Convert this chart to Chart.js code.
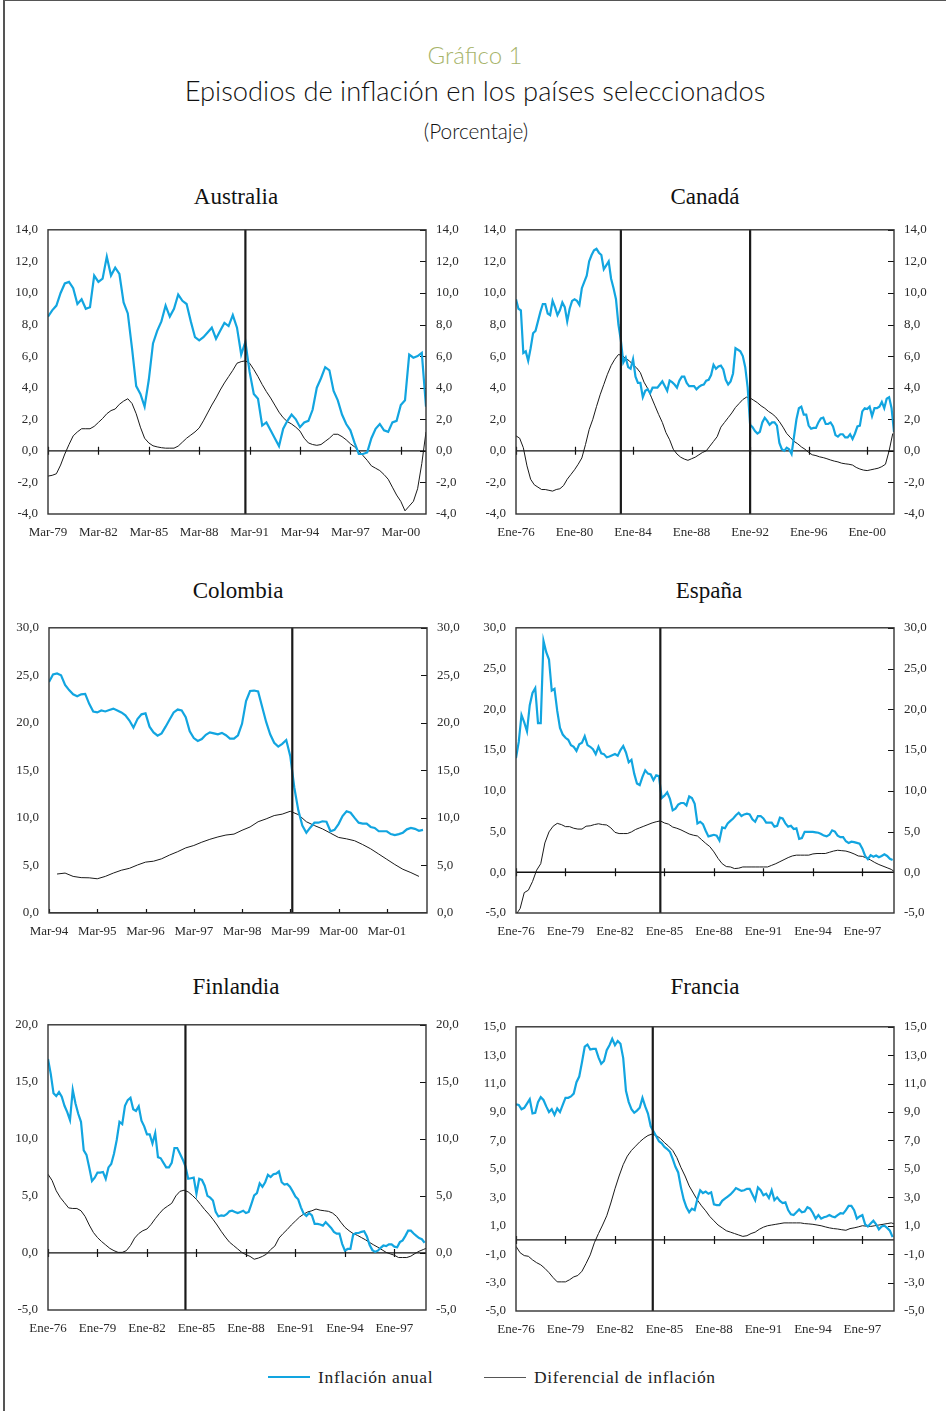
<!DOCTYPE html>
<html lang="es">
<head>
<meta charset="utf-8">
<title>Episodios de inflación en los países seleccionados</title>
<script src="https://cdn.jsdelivr.net/npm/chart.js@4.4.0/dist/chart.umd.min.js"></script>
<style>
  html, body { margin: 0; padding: 0; background: #fff; }
  #page { position: relative; width: 946px; height: 1411px; overflow: hidden; background: #fff; }
  .rule-left { position: absolute; left: 3px; top: 0; width: 1.5px; height: 1411px; background: #555; }
  .rule-top { position: absolute; left: 3px; top: 0; width: 943px; height: 1px; background: #555; }
  .c { position: absolute; white-space: nowrap; transform: translate(-50%, -50%); }
  .sans { font-family: Lato, "Open Sans", sans-serif; font-weight: 300; color: #111; }
  .serif { font-family: "Liberation Serif", "Times New Roman", serif; color: #111; }
  .kicker { font-size: 24px; color: #a7b46b; }
  .headline { font-size: 27.3px; }
  .unit { font-size: 20.8px; }
  .ptitle { font-size: 23px; }
  canvas { position: absolute; }
  .lg-line { position: absolute; }
  .lg-text { position: absolute; white-space: nowrap; transform: translateY(-50%); font-size: 17.5px; letter-spacing: 0.65px; color: #222; }
</style>
</head>
<body>
<div id="page">
  <div class="rule-left"></div>
  <div class="rule-top"></div>

  <div class="c sans kicker" style="left:475px; top:54px;">Gráfico 1</div>
  <div class="c sans headline" style="left:475px; top:90px;">Episodios de inflación en los países seleccionados</div>
  <div class="c sans unit" style="left:476px; top:130px;">(Porcentaje)</div>

  <div class="c serif ptitle" style="left:236px; top:197px;">Australia</div>
  <div class="c serif ptitle" style="left:705px; top:197px;">Canadá</div>
  <div class="c serif ptitle" style="left:238px; top:591px;">Colombia</div>
  <div class="c serif ptitle" style="left:709px; top:591px;">España</div>
  <div class="c serif ptitle" style="left:236px; top:987px;">Finlandia</div>
  <div class="c serif ptitle" style="left:705px; top:987px;">Francia</div>

  <canvas id="australia" width="470" height="330" style="left:0px; top:220px;"></canvas>
  <canvas id="canada" width="470" height="330" style="left:468px; top:220px;"></canvas>
  <canvas id="colombia" width="470" height="331" style="left:1px; top:618px;"></canvas>
  <canvas id="espana" width="470" height="331" style="left:468px; top:618px;"></canvas>
  <canvas id="finlandia" width="470" height="331" style="left:0px; top:1015px;"></canvas>
  <canvas id="francia" width="470" height="330" style="left:468px; top:1017px;"></canvas>

  <div class="lg-line" style="left:268px; top:1376px; width:42px; height:2px; background:#12a5e0;"></div>
  <div class="lg-text serif" style="left:318px; top:1377px;">Inflación anual</div>
  <div class="lg-line" style="left:484px; top:1377px; width:42px; height:1px; background:#555;"></div>
  <div class="lg-text serif" style="left:534px; top:1377px;">Diferencial de inflación</div>
</div>

<script>
// ---- Australia: quarterly, from Mar-79 (x in months since the first observation) ----
const australiaTicks = ['Mar-79', 'Mar-82', 'Mar-85', 'Mar-88', 'Mar-91', 'Mar-94', 'Mar-97', 'Mar-00'];
const australiaBreaks = [141];
const australiaInflation = [
  8.5, 8.9, 9.2, 10.0, 10.6, 10.7, 10.3, 9.3, 9.6, 9.0,
  9.1, 11.1, 10.7, 10.9, 12.3, 11.1, 11.6, 11.2, 9.4, 8.7,
  6.5, 4.1, 3.6, 2.8, 4.5, 6.8, 7.6, 8.2, 9.2, 8.5,
  9.0, 9.9, 9.5, 9.3, 8.2, 7.2, 7.0, 7.2, 7.5, 7.8,
  7.1, 7.6, 8.1, 7.9, 8.6, 7.8, 6.1, 6.9, 5.0, 3.6,
  3.3, 1.6, 1.8, 1.3, 0.8, 0.3, 1.4, 1.9, 2.3, 2.0,
  1.5, 1.8, 1.9, 2.6, 4.0, 4.6, 5.3, 5.1, 3.8, 3.2,
  2.3, 1.7, 1.3, 0.5, -0.2, -0.2, -0.1, 0.8, 1.4, 1.7,
  1.3, 1.2, 1.8, 1.9, 2.9, 3.2, 6.1, 5.9, 6.0, 6.2, 2.8
];
const australiaDifferential = [
  -1.6, -1.55, -1.45, -0.9, -0.2, 0.4, 0.95, 1.2, 1.4, 1.4,
  1.4, 1.55, 1.8, 2.05, 2.35, 2.55, 2.65, 2.95, 3.15, 3.3,
  3.0, 2.35, 1.5, 0.8, 0.5, 0.32, 0.25, 0.2, 0.17, 0.17,
  0.17, 0.3, 0.55, 0.8, 1.0, 1.2, 1.45, 1.9, 2.4, 2.9,
  3.35, 3.85, 4.3, 4.7, 5.1, 5.55, 5.65, 5.7, 5.55, 5.15,
  4.7, 4.2, 3.75, 3.35, 2.9, 2.45, 2.1, 1.85, 1.7, 1.5,
  1.25, 0.8, 0.5, 0.4, 0.35, 0.4, 0.6, 0.8, 1.05, 1.05,
  0.9, 0.7, 0.45, 0.25, 0.0, -0.3, -0.6, -0.95, -1.1, -1.25,
  -1.5, -1.8, -2.3, -2.8, -3.2, -3.8, -3.5, -3.2, -2.4, -0.8, 1.2
];

// ---- Canadá: from Ene-76; inflation every 2 months, differential quarterly ----
const canadaTicks = ['Ene-76', 'Ene-80', 'Ene-84', 'Ene-88', 'Ene-92', 'Ene-96', 'Ene-00'];
const canadaBreaks = [86, 192];
const canadaInflation = [
  9.6, 9.0, 8.9, 6.2, 6.3, 5.7, 6.5, 7.45, 7.6, 8.2,
  8.8, 9.3, 9.3, 8.7, 8.6, 9.5, 9.1, 8.6, 8.9, 9.4,
  9.1, 8.2, 9.0, 9.5, 9.6, 9.5, 9.25, 10.3, 10.7, 11.1,
  12.0, 12.4, 12.7, 12.8, 12.55, 12.4, 11.5, 11.75, 12.0, 10.9,
  10.3, 9.6, 8.0, 7.0, 5.6, 5.9, 5.3, 5.2, 5.8, 4.7,
  4.3, 4.3, 3.4, 3.8, 3.9, 3.65, 4.0, 4.0, 4.0, 4.2,
  4.4, 4.1, 3.8, 4.45, 4.35, 4.2, 4.0, 4.45, 4.7, 4.7,
  4.3, 4.1, 4.1, 4.1, 3.9, 4.05, 4.15, 4.2, 4.45, 4.5,
  4.8, 5.45, 5.2, 5.35, 5.4, 5.15, 4.5, 4.2, 4.4, 4.9,
  6.5, 6.4, 6.3, 6.0, 5.3, 4.0, 1.65, 1.5, 1.25, 1.1,
  1.2, 1.8, 2.1, 1.9, 1.65, 1.8, 1.8, 1.6, 0.5, 0.1,
  0.0, 0.2, 0.1, -0.2, 0.9, 2.0, 2.7, 2.8, 2.3, 2.3,
  1.6, 1.4, 1.45, 1.45, 1.8, 2.05, 2.1, 1.7, 1.7, 1.8,
  1.55, 1.0, 0.9, 1.05, 1.05, 0.85, 0.85, 1.05, 0.75, 1.1,
  1.55, 1.6, 2.5, 2.7, 2.65, 2.8, 2.2, 2.7, 2.7, 2.8,
  3.1, 2.7, 3.3, 3.4, 2.7, 1.2
];
const canadaDifferential = [
  0.95, 0.8, 0.2, -0.95, -1.8, -2.15, -2.3, -2.45, -2.45, -2.5,
  -2.55, -2.45, -2.4, -2.2, -1.8, -1.5, -1.2, -0.85, -0.45, 0.4,
  1.35, 2.0, 2.8, 3.55, 4.2, 4.85, 5.4, 5.8, 6.1, 6.05,
  5.85, 5.7, 5.45, 5.25, 4.95, 4.35, 3.95, 3.4, 2.85, 2.3,
  1.8, 1.15, 0.7, 0.1, -0.2, -0.4, -0.52, -0.6, -0.5, -0.4,
  -0.25, -0.1, 0.0, 0.3, 0.6, 0.9, 1.5, 1.8, 2.1, 2.4,
  2.75, 3.0, 3.25, 3.4, 3.35, 3.2, 3.05, 2.85, 2.7, 2.5,
  2.35, 2.15, 1.85, 1.5, 1.1, 0.85, 0.6, 0.45, 0.25, 0.1,
  -0.1, -0.25, -0.3, -0.38, -0.43, -0.5, -0.58, -0.65, -0.7, -0.78,
  -0.82, -0.85, -0.9, -1.05, -1.15, -1.22, -1.25, -1.2, -1.15, -1.1,
  -1.0, -0.85, 0.0, 1.1
];

// ---- Colombia: monthly from Mar-94; differential every 2 months from May-94 ----
const colombiaTicks = ['Mar-94', 'Mar-95', 'Mar-96', 'Mar-97', 'Mar-98', 'Mar-99', 'Mar-00', 'Mar-01'];
const colombiaBreaks = [60.5];
const colombiaInflation = [
  24.3, 25.1, 25.2, 25.0, 24.0, 23.45, 23.0, 22.8, 23.0, 23.05,
  22.0, 21.2, 21.1, 21.3, 21.2, 21.35, 21.5, 21.3, 21.1, 20.8,
  20.25, 19.5, 20.4, 20.9, 21.0, 19.6, 19.0, 18.65, 18.9, 19.6,
  20.35, 21.1, 21.4, 21.3, 20.6, 19.1, 18.4, 18.1, 18.3, 18.75,
  19.0, 18.9, 18.8, 18.95, 18.7, 18.35, 18.35, 18.7, 19.9, 22.3,
  23.35, 23.4, 23.3, 21.7, 20.1, 18.8, 17.9, 17.5, 17.8, 18.2,
  16.5, 13.2, 10.8, 9.2, 8.45, 9.0, 9.5, 9.5, 9.65, 9.6,
  8.6, 8.75, 9.35, 10.2, 10.7, 10.55, 10.0, 9.5, 9.4, 9.4,
  9.05, 8.95, 8.6, 8.6, 8.6, 8.3, 8.2, 8.3, 8.45, 8.8,
  8.95, 8.85, 8.65, 8.75
];
const colombiaDifferential = [
  4.1, 4.2, 3.85, 3.72, 3.7, 3.6, 3.85, 4.2, 4.5, 4.7,
  5.05, 5.35, 5.45, 5.7, 6.1, 6.45, 6.85, 7.1, 7.45, 7.75,
  8.0, 8.2, 8.3, 8.7, 9.05, 9.6, 9.9, 10.25, 10.4, 10.7,
  10.35, 9.6, 9.2, 8.85, 8.4, 7.95, 7.8, 7.6, 7.2, 6.75,
  6.2, 5.65, 5.1, 4.6, 4.25, 3.85
];

// ---- España: from Ene-76; inflation every 2 months, differential quarterly ----
const espanaTicks = ['Ene-76', 'Ene-79', 'Ene-82', 'Ene-85', 'Ene-88', 'Ene-91', 'Ene-94', 'Ene-97'];
const espanaBreaks = [105];
const espanaInflation = [
  14.0, 16.0, 19.3, 18.4, 17.3, 20.5, 22.0, 22.6, 18.3, 18.3,
  28.4, 27.0, 26.1, 22.3, 22.5, 19.8, 17.7, 16.9, 16.5, 16.25,
  15.6, 15.4, 14.9, 15.7, 15.9, 16.7, 15.6, 15.4, 15.1, 14.5,
  15.4, 14.6, 14.5, 14.1, 14.2, 14.35, 14.5, 14.3, 15.0, 15.5,
  14.7, 13.5, 13.8, 12.1, 10.9, 10.7, 11.7, 12.5, 12.1, 12.0,
  11.3, 11.9, 11.8, 9.1, 9.4, 9.8, 9.0, 7.6, 7.8, 8.3,
  8.5, 8.5, 8.2, 9.3, 9.1, 8.4, 6.0, 6.2, 5.9, 5.1,
  4.4, 4.5, 4.6, 4.5, 3.9, 5.5, 5.4, 6.0, 6.3, 6.6,
  7.0, 7.3, 6.9, 7.1, 7.2, 7.1, 6.5, 6.2, 6.9, 6.9,
  6.6, 6.1, 6.1, 6.1, 5.6, 5.7, 6.7, 6.6, 6.0, 5.6,
  5.7, 5.3, 5.4, 4.1, 4.2, 4.95, 4.95, 4.95, 4.95, 4.9,
  4.85, 4.7, 4.5, 4.4, 4.6, 5.15, 5.0, 4.5, 4.3, 4.3,
  3.8, 3.6, 3.75, 3.7, 3.6, 3.5, 2.9, 2.0, 1.6, 2.1,
  1.9, 2.05, 1.85, 2.0, 2.2, 2.0, 1.65, 1.5
];
const espanaDifferential = [
  -5.2, -4.45, -2.5, -2.2, -1.15, 0.25, 1.05, 3.6, 4.95, 5.65,
  6.0, 5.85, 5.6, 5.6, 5.4, 5.3, 5.3, 5.65, 5.7, 5.85,
  5.95, 5.85, 5.8, 5.45, 4.9, 4.75, 4.75, 4.75, 4.95, 5.25,
  5.45, 5.65, 5.85, 6.05, 6.2, 6.3, 6.05, 5.9, 5.55, 5.4,
  5.2, 4.95, 4.7, 4.55, 4.45, 4.0, 3.55, 3.15, 2.5, 1.7,
  1.05, 0.7, 0.65, 0.45, 0.5, 0.65, 0.65, 0.65, 0.65, 0.65,
  0.65, 0.65, 0.85, 1.05, 1.3, 1.55, 1.8, 2.0, 2.1, 2.1,
  2.1, 2.1, 2.25, 2.3, 2.3, 2.3, 2.45, 2.6, 2.7, 2.65,
  2.6, 2.45, 2.25, 2.0, 1.95, 1.75, 1.5, 1.2, 0.95, 0.75,
  0.55, 0.35, 0.0
];

// ---- Finlandia: from Ene-76; inflation every 2 months, differential quarterly ----
const finlandiaTicks = ['Ene-76', 'Ene-79', 'Ene-82', 'Ene-85', 'Ene-88', 'Ene-91', 'Ene-94', 'Ene-97'];
const finlandiaBreaks = [100];
const finlandiaInflation = [
  17.0, 15.7, 14.0, 13.75, 14.1, 13.7, 12.9, 12.35, 11.65, 14.3,
  13.1, 12.2, 11.5, 9.0, 8.6, 7.5, 6.3, 6.6, 7.05, 7.05,
  7.1, 6.5, 7.5, 7.8, 8.7, 9.9, 11.5, 11.3, 12.9, 13.4,
  13.6, 12.6, 12.45, 12.85, 11.6, 11.1, 10.4, 10.4, 9.6, 10.5,
  8.4, 8.3, 7.9, 7.5, 7.5, 7.9, 9.2, 9.2, 8.7, 8.2,
  7.6, 6.5, 6.55, 6.6, 5.2, 6.5, 6.4, 5.9, 5.0, 4.85,
  4.6, 3.6, 3.2, 3.3, 3.25, 3.4, 3.65, 3.7, 3.6, 3.5,
  3.6, 3.7, 3.5, 3.6, 4.3, 5.05, 5.25, 6.1, 5.8, 6.2,
  6.85, 6.65, 6.9, 6.95, 7.15, 6.2, 6.0, 6.05, 5.8, 5.4,
  4.95, 4.7, 4.0, 3.45, 3.25, 3.5, 3.3, 2.55, 2.55, 2.5,
  2.4, 2.7, 2.45, 2.2, 1.85, 1.7, 1.7, 0.8, 0.2, 0.35,
  0.35, 1.6, 1.75, 1.75, 1.85, 1.9, 1.45, 0.7, 0.25, 0.1,
  0.2, 0.45, 0.65, 0.6, 0.75, 0.75, 0.55, 0.5, 0.95, 1.1,
  1.5, 1.95, 1.95, 1.7, 1.5, 1.3, 1.2, 0.9
];
const finlandiaDifferential = [
  6.9, 6.35, 5.45, 4.85, 4.4, 3.95, 3.9, 3.9, 3.7, 3.2,
  2.45, 1.8, 1.35, 1.0, 0.7, 0.4, 0.2, 0.05, 0.05, 0.2,
  0.65, 1.3, 1.7, 1.95, 2.1, 2.5, 3.0, 3.45, 3.85, 4.1,
  4.35, 5.0, 5.4, 5.5, 5.35, 5.05, 4.7, 4.25, 3.8, 3.4,
  2.95, 2.45, 1.9, 1.4, 0.95, 0.65, 0.35, 0.05, -0.15, -0.3,
  -0.55, -0.45, -0.3, -0.1, 0.3, 0.6, 1.3, 1.7, 2.05, 2.45,
  2.8, 3.15, 3.4, 3.6, 3.7, 3.85, 3.75, 3.7, 3.65, 3.5,
  3.2, 2.7, 2.25, 1.95, 1.7, 1.55, 1.35, 1.15, 0.92, 0.7,
  0.5, 0.28, 0.05, -0.08, -0.2, -0.4, -0.4, -0.4, -0.28, -0.05,
  0.15, 0.3, 0.45
];

// ---- Francia: from Ene-76; inflation every 2 months, differential quarterly ----
const franciaTicks = ['Ene-76', 'Ene-79', 'Ene-82', 'Ene-85', 'Ene-88', 'Ene-91', 'Ene-94', 'Ene-97'];
const franciaBreaks = [99.5];
const franciaInflation = [
  9.55, 9.5, 9.2, 9.3, 9.6, 9.9, 8.9, 8.95, 9.7, 10.05,
  9.85, 9.4, 9.0, 9.2, 8.8, 9.25, 9.0, 9.5, 10.0, 10.0,
  10.1, 10.3, 11.1, 11.5, 12.5, 13.6, 13.75, 13.4, 13.45, 13.45,
  12.85, 12.4, 12.6, 13.35, 13.7, 14.15, 13.7, 14.0, 13.8, 12.8,
  10.5, 9.7, 9.2, 8.95, 9.1, 9.3, 10.0, 9.4, 8.9, 8.0,
  7.65, 7.3, 6.95, 6.8, 6.55, 6.4, 6.2, 5.7, 5.15, 4.75,
  3.7, 2.85, 2.3, 1.95, 2.2, 2.1, 2.9, 3.5, 3.3, 3.4,
  3.25, 3.35, 2.5, 2.45, 2.45, 2.75, 2.9, 3.05, 3.2, 3.4,
  3.65, 3.55, 3.45, 3.5, 3.6, 3.6, 3.2, 2.8, 3.7, 3.5,
  3.15, 3.25, 2.95, 3.5, 2.8, 3.0, 2.75, 2.6, 2.65, 2.1,
  1.8, 1.75, 1.95, 2.15, 1.95, 2.0, 2.3, 2.2, 1.9, 1.5,
  1.75, 1.5, 1.6, 1.65, 1.75, 1.65, 1.6, 1.75, 1.88, 1.85,
  2.1, 2.4, 2.4, 2.1, 1.5, 1.65, 1.75, 1.1, 0.95, 1.15,
  1.35, 1.1, 0.75, 0.95, 1.0, 0.85, 0.65, 0.2
];
const franciaDifferential = [
  -0.45, -0.9, -1.1, -1.15, -1.4, -1.6, -1.75, -2.0, -2.3, -2.65,
  -2.95, -2.95, -2.95, -2.8, -2.6, -2.5, -2.2, -1.65, -1.05, -0.2,
  0.45, 1.05, 1.7, 2.6, 3.6, 4.5, 5.3, 5.9, 6.3, 6.6,
  6.9, 7.15, 7.35, 7.45, 7.35, 7.15, 6.85, 6.6, 6.3, 5.8,
  5.1, 4.5, 3.8, 3.3, 2.8, 2.4, 2.05, 1.65, 1.35, 1.05,
  0.85, 0.65, 0.55, 0.45, 0.35, 0.25, 0.3, 0.45, 0.55, 0.75,
  0.9, 1.0, 1.05, 1.1, 1.15, 1.2, 1.2, 1.2, 1.2, 1.2,
  1.15, 1.13, 1.1, 1.05, 1.0, 0.92, 0.85, 0.8, 0.77, 0.72,
  0.68, 0.8, 0.85, 0.92, 1.0, 0.97, 0.95, 1.0, 1.05, 1.1,
  1.15, 1.2, 1.1
];

// Each panel: time axis in months from its first observation; plotTop/plotH place the plot box on the page.
const panels = [
  { id: 'australia', plotTop: 230, plotH: 284, xMax: 270, ticks: australiaTicks, tickStep: 36, yMin: -4, yMax: 14, yStep: 2,
    infl: australiaInflation, inflStep: 3, inflStart: 0,
    diff: australiaDifferential, diffStep: 3, diffStart: 0, breaks: australiaBreaks },
  { id: 'canada', plotTop: 230, plotH: 284, xMax: 310, ticks: canadaTicks, tickStep: 48, yMin: -4, yMax: 14, yStep: 2,
    infl: canadaInflation, inflStep: 2, inflStart: 0,
    diff: canadaDifferential, diffStep: 3, diffStart: 0, breaks: canadaBreaks },
  { id: 'colombia', plotTop: 628, plotH: 285, xMax: 94, ticks: colombiaTicks, tickStep: 12, yMin: 0, yMax: 30, yStep: 5,
    infl: colombiaInflation, inflStep: 1, inflStart: 0,
    diff: colombiaDifferential, diffStep: 2, diffStart: 2, breaks: colombiaBreaks },
  { id: 'espana', plotTop: 628, plotH: 285, xMax: 275, ticks: espanaTicks, tickStep: 36, yMin: -5, yMax: 30, yStep: 5,
    infl: espanaInflation, inflStep: 2, inflStart: 0,
    diff: espanaDifferential, diffStep: 3, diffStart: 0, breaks: espanaBreaks },
  { id: 'finlandia', plotTop: 1025, plotH: 285, xMax: 275, ticks: finlandiaTicks, tickStep: 36, yMin: -5, yMax: 20, yStep: 5,
    infl: finlandiaInflation, inflStep: 2, inflStart: 0,
    diff: finlandiaDifferential, diffStep: 3, diffStart: 0, breaks: finlandiaBreaks },
  { id: 'francia', plotTop: 1027, plotH: 284, xMax: 275, ticks: franciaTicks, tickStep: 36, yMin: -5, yMax: 15, yStep: 2,
    infl: franciaInflation, inflStep: 2, inflStart: 0,
    diff: franciaDifferential, diffStep: 3, diffStart: 0, breaks: franciaBreaks }
];

const X_AXIS_H = 36;
const toPoints = (values, step, start) => values.map((v, i) => ({ x: start + i * step, y: v }));
const fmt = v => v.toFixed(1).replace('.', ',');
const tickFont = { family: '"Liberation Serif", "Times New Roman", serif', size: 13 };
const tickColor = '#2a2a2a';

// Frame, zero line with its date ticks, inner ticks on the right axis and the episode markers.
const panelDecor = {
  id: 'panelDecor',
  beforeDatasetsDraw(chart) {
    const { ctx, chartArea: a, scales } = chart;
    const y0 = scales.y.getPixelForValue(0);
    ctx.save();
    ctx.beginPath();
    ctx.rect(a.left, a.top, a.right - a.left, a.bottom - a.top);
    ctx.clip();
    ctx.strokeStyle = '#111';
    ctx.lineWidth = 1.3;
    ctx.beginPath();
    ctx.moveTo(a.left, y0);
    ctx.lineTo(a.right, y0);
    ctx.stroke();
    ctx.lineWidth = 1.2;
    ctx.beginPath();
    scales.x.ticks.forEach(t => {
      const px = Math.round(scales.x.getPixelForValue(t.value)) + 0.5;
      ctx.moveTo(px, y0 - 4);
      ctx.lineTo(px, y0 + 4);
    });
    scales.y2.ticks.forEach(t => {
      const py = Math.round(scales.y2.getPixelForValue(t.value)) + 0.5;
      ctx.moveTo(a.right - 6, py);
      ctx.lineTo(a.right, py);
    });
    ctx.stroke();
    ctx.restore();
  },
  afterDatasetsDraw(chart, args, opts) {
    const { ctx, chartArea: a, scales } = chart;
    ctx.save();
    ctx.strokeStyle = '#1a1a1a';
    ctx.lineWidth = 2.2;
    (opts.breaks || []).forEach(b => {
      const px = scales.x.getPixelForValue(b);
      ctx.beginPath();
      ctx.moveTo(px, a.top);
      ctx.lineTo(px, a.bottom);
      ctx.stroke();
    });
    ctx.strokeStyle = '#333';
    ctx.lineWidth = 1.4;
    ctx.strokeRect(a.left, a.top, a.right - a.left, a.bottom - a.top);
    ctx.restore();
  }
};

function yTickValues(p) {
  const out = [];
  for (let v = p.yMin; v <= p.yMax + 1e-9; v += p.yStep) out.push({ value: +v.toFixed(4) });
  return out;
}

function yAxis(p, position, width) {
  return {
    position, min: p.yMin, max: p.yMax,
    grid: { display: false, drawTicks: false }, border: { display: false },
    afterBuildTicks: s => { s.ticks = yTickValues(p); },
    afterFit: s => { s.width = width; },
    ticks: { font: tickFont, color: tickColor, padding: 10, callback: v => fmt(v) }
  };
}

function panelConfig(p) {
  return {
    type: 'line',
    data: {
      datasets: [
        { label: 'Inflación anual', data: toPoints(p.infl, p.inflStep, p.inflStart),
          borderColor: '#12a5e0', borderWidth: 2.2, pointRadius: 0, tension: 0, yAxisID: 'y' },
        { label: 'Diferencial de inflación', data: toPoints(p.diff, p.diffStep, p.diffStart),
          borderColor: '#1a1a1a', borderWidth: 1, pointRadius: 0, tension: 0, yAxisID: 'y' }
      ]
    },
    options: {
      responsive: false, maintainAspectRatio: false, animation: false, devicePixelRatio: 1,
      layout: { padding: { top: 10, left: 0, right: 0, bottom: 0 } },
      plugins: { legend: { display: false }, tooltip: { enabled: false }, panelDecor: { breaks: p.breaks } },
      scales: {
        x: {
          type: 'linear', min: 0, max: p.xMax,
          grid: { display: false, drawTicks: false }, border: { display: false },
          afterBuildTicks: s => { s.ticks = p.ticks.map((_, i) => ({ value: i * p.tickStep })); },
          afterFit: s => { s.height = X_AXIS_H; },
          ticks: { autoSkip: false, maxRotation: 0, padding: 11, font: tickFont, color: tickColor,
                   callback: (v, i) => p.ticks[i] }
        },
        y: yAxis(p, 'left', 48),
        y2: yAxis(p, 'right', 44)
      }
    },
    plugins: [panelDecor]
  };
}

// Lay each panel out once to learn where Chart.js puts the plot box, then size and place the canvas.
panels.forEach(p => {
  const canvas = document.getElementById(p.id);
  const probe = new Chart(canvas, panelConfig(p));
  const offsetTop = probe.chartArea.top;
  probe.destroy();
  canvas.width = 470;
  canvas.height = Math.round(offsetTop + p.plotH + X_AXIS_H);
  canvas.style.width = '470px';
  canvas.style.height = canvas.height + 'px';
  canvas.style.top = (p.plotTop - offsetTop) + 'px';
  new Chart(canvas, panelConfig(p));
});
</script>
</body>
</html>
